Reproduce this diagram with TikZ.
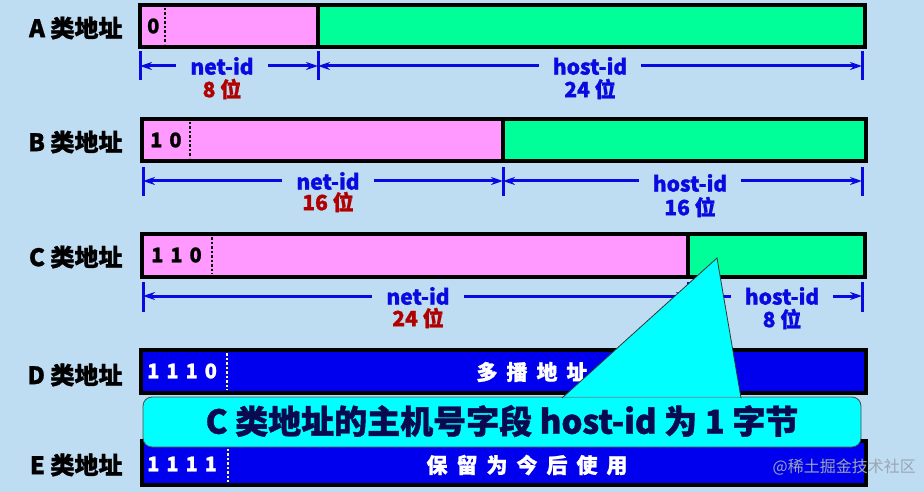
\documentclass[tikz,border=0pt]{standalone}
\usepackage{fontspec}
\setmainfont{Noto Sans CJK SC}[BoldFeatures={FakeBold=1.2}]
\usetikzlibrary{arrows.meta}
\definecolor{bgc}{HTML}{BFDDF2}
\definecolor{pinkf}{HTML}{FF99FF}
\definecolor{greenf}{HTML}{00FF99}
\definecolor{bluef}{HTML}{0000EE}
\definecolor{dimc}{HTML}{0A0AE0}
\definecolor{redc}{HTML}{B00000}
\definecolor{navy}{HTML}{0A0A50}
\definecolor{cyanf}{HTML}{00FFFF}
\definecolor{dotc}{HTML}{FFFF80}
\definecolor{wmc}{HTML}{9AA6B4}
\newcommand{\bsp}{\hspace{7pt}}
\begin{document}
\begin{tikzpicture}[x=1pt,y=-1pt,
  field/.style={draw=black,line width=3.5pt},
  dfield/.style={draw=black,line width=4pt,fill=bluef},
  cls/.style={anchor=east,font=\fontsize{24}{26}\selectfont\bfseries},
  bits/.style={font=\fontsize{20}{22}\selectfont\bfseries,anchor=west,inner sep=0pt},
  wbits/.style={bits,text=white},
  sep/.style={draw=black,line width=2.5pt,dash pattern=on 2.5pt off 2pt},
  wsep/.style={draw=dotc,line width=2.5pt,dash pattern=on 2.5pt off 2pt},
  tickl/.style={draw=dimc,line width=3pt},
  dimline/.style={draw=dimc,line width=3pt,-{Stealth[length=12pt,width=8pt]}},
  idlbl/.style={text=dimc,font=\fontsize{21}{23}\selectfont\bfseries,inner xsep=14pt,inner ysep=0pt},
  netnum/.style={text=redc,font=\fontsize{21}{23}\selectfont\bfseries,inner sep=0pt},
  hostnum/.style={text=dimc,font=\fontsize{21}{23}\selectfont\bfseries,inner sep=0pt},
  wtext/.style={text=white,font=\fontsize{21}{23}\selectfont\bfseries,inner sep=0pt},
  callout/.style={draw=black!70,line width=0.8pt,fill=cyanf,rounded corners=9pt},
  calltext/.style={text=navy,font=\fontsize{33}{35}\selectfont\bfseries,inner sep=0pt}
]
\useasboundingbox (0,0) rectangle (924,492);
\fill[bgc] (0,0) rectangle (924,492);

% ---------- class labels ----------
\node[cls] (lA) at (126,28) {A 类地址};
\node[cls] (lB) at (126,142) {B 类地址};
\node[cls] (lC) at (126,257) {C 类地址};
\node[cls] (lD) at (126,375) {D 类地址};
\node[cls] (lE) at (126,465) {E 类地址};

% ---------- A ----------
\fill[pinkf] (140,5) rectangle (318,47);
\fill[greenf] (318,5) rectangle (865,47);
\draw[field] (318,5) -- (318,47);
\draw[field] (140,5) rectangle (865,47);
\draw[sep] (165,8) -- (165,44);
\node[bits] (bA) at (147,26) {0};
\coordinate (aL) at (140,66); \coordinate (aM) at (318,66); \coordinate (aR) at (862,66);
\draw[tickl] (140,51) -- (140,80);
\draw[tickl] (318,51) -- (318,80);
\draw[tickl] (862,51) -- (862,80);
\node[idlbl] (aNet) at (222,66) {net-id};
\node[netnum] (aNetN) at (222,89) {8 位};
\node[idlbl] (aHost) at (590,66) {host-id};
\node[hostnum] (aHostN) at (590,89) {24 位};
\draw[dimline] (aNet.west) -- (aL);
\draw[dimline] (aNet.east) -- (aM);
\draw[dimline] (aHost.west) -- (aM);
\draw[dimline] (aHost.east) -- (aR);

% ---------- B ----------
\fill[pinkf] (142,119) rectangle (503,161);
\fill[greenf] (503,119) rectangle (866,161);
\draw[field] (503,119) -- (503,161);
\draw[field] (142,119) rectangle (866,161);
\draw[sep] (190,122) -- (190,158);
\node[bits] (bB) at (150,140) {1\bsp0};
\coordinate (bL) at (143,181); \coordinate (bM) at (503,181); \coordinate (bR) at (862,181);
\draw[tickl] (143,167) -- (143,196);
\draw[tickl] (503,167) -- (503,196);
\draw[tickl] (862,167) -- (862,196);
\node[idlbl] (bNet) at (328,181) {net-id};
\node[netnum] (bNetN) at (328,202) {16 位};
\node[idlbl] (bHost) at (690,183) {host-id};
\node[hostnum] (bHostN) at (690,207) {16 位};
\draw[dimline] (bNet.west) -- (bL);
\draw[dimline] (bNet.east) -- (bM);
\draw[dimline] (bHost.west |- bM) -- (bM);
\draw[dimline] (bHost.east |- bR) -- (bR);

% ---------- C ----------
\fill[pinkf] (142,234) rectangle (688,277);
\fill[greenf] (688,234) rectangle (865,277);
\draw[field] (688,234) -- (688,277);
\draw[field] (142,234) rectangle (865,277);
\draw[sep] (212,237) -- (212,274);
\node[bits] (bC) at (151,255) {1\bsp1\bsp0};
\coordinate (cL) at (143,296); \coordinate (cM) at (688,296); \coordinate (cR) at (862,296);
\draw[tickl] (143,282) -- (143,312);
\draw[tickl] (688,282) -- (688,312);
\draw[tickl] (862,282) -- (862,312);
\node[idlbl] (cNet) at (418,296) {net-id};
\node[netnum] (cNetN) at (418,318) {24 位};
\node[idlbl] (cHost) at (782,296) {host-id};
\node[hostnum] (cHostN) at (782,319) {8 位};
\draw[dimline] (cNet.west) -- (cL);
\draw[dimline] (cNet.east) -- (cM);
\draw[dimline] (cHost.west) -- (cM);
\draw[dimline] (cHost.east) -- (cR);

% ---------- D ----------
\draw[dfield] (141,350) rectangle (866,393);
\draw[wsep] (227,353) -- (227,390);
\node[wbits] (bD) at (147,371) {1\bsp1\bsp1\bsp0};
\node[wtext] (dTxt) at (532,372) {多\hspace{9pt}播\hspace{9pt}地\hspace{9pt}址};

% ---------- E ----------
\draw[dfield] (142,441) rectangle (866,485);
\draw[wsep] (228,444) -- (228,482);
\node[wbits] (bE) at (147,464) {1\bsp1\bsp1\bsp1};
\node[wtext] (eTxt) at (527,465) {保\hspace{9pt}留\hspace{9pt}为\hspace{9pt}今\hspace{9pt}后\hspace{9pt}使\hspace{9pt}用};

% ---------- callout ----------
\draw[callout] (143,397) rectangle (861,447);
\coordinate (tip) at (717,258);
\coordinate (t1) at (562,398);
\coordinate (t2) at (741,398);
\fill[cyanf] (tip) -- (t1) -- ([yshift=1.5pt]t1) -- ([yshift=1.5pt]t2) -- (t2) -- cycle;
\draw[black!80,line width=0.8pt] (t1) -- (tip) -- (t2);
\node[calltext] (cTxt) at (502,421) {C 类地址的主机号字段 host-id 为 1 字节};

% ---------- watermark ----------
\node[anchor=east,text=wmc,font=\fontsize{16}{18}\selectfont,inner sep=0pt] (wm) at (916,467) {@稀土掘金技术社区};
\end{tikzpicture}
\end{document}
